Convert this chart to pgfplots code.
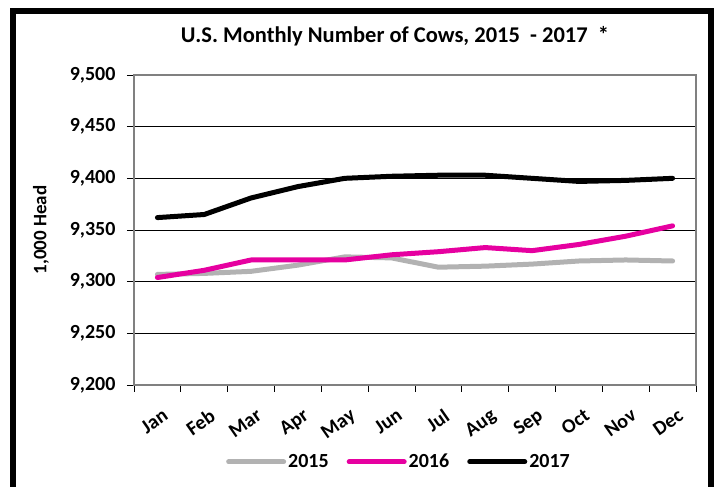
\documentclass[border=0pt]{standalone}
\usepackage{pgfplots}
\pgfplotsset{compat=1.18}
\usepackage{fontspec}
\setmainfont{Carlito}
\definecolor{c15}{RGB}{178,178,178}
\definecolor{c16}{RGB}{230,0,160}
\definecolor{axgray}{RGB}{128,128,128}
\begin{document}
\begin{tikzpicture}[x=1pt,y=1pt]
\useasboundingbox (0,0) rectangle (715,487);
\draw[line width=6pt] (13,-20) -- (13,476) -- (711,476) -- (711,-20);
\node[font=\bfseries\fontsize{22.5}{26}\selectfont] at (395,451) {U.S. Monthly Number of Cows, 2015\ \ - 2017\ \ *};
\node[font=\bfseries\fontsize{19}{22}\selectfont, rotate=90] at (41,257) {1,000 Head};
\begin{axis}[
  at={(134pt,102pt)}, anchor=south west,
  scale only axis, width=562pt, height=310pt,
  xmin=-0.5, xmax=11.5, ymin=9200, ymax=9500,
  ytick={9200,9250,...,9500},
  xtick={0,...,11},
  xticklabels={Jan,Feb,Mar,Apr,May,Jun,Jul,Aug,Sep,Oct,Nov,Dec},
  major x tick style={draw=none},
  minor xtick={-0.5,0.5,...,11.5},
  tick align=outside, tick pos=left,
  major tick length=7pt, minor tick length=7pt,
  tick style={black, line width=0.8pt},
  ymajorgrids, grid style={black, line width=0.9pt},
  axis line style={axgray, line width=1.5pt},
  /pgf/number format/assume math mode=true,
  /pgf/number format/1000 sep={,},
  yticklabel style={font=\bfseries\fontsize{20}{22}\selectfont, xshift=-8pt},
  xticklabel style={font=\bfseries\fontsize{20}{22}\selectfont, rotate=35, anchor=north east, xshift=-2pt, yshift=-12pt},
  legend style={at={(0.4715,-0.248)}, anchor=center, draw=none, fill=none,
    font=\bfseries\fontsize{20}{22}\selectfont, legend columns=3,
    /tikz/every even column/.append style={column sep=16pt}},
  legend image code/.code={\draw[#1] (0pt,0pt) -- (55pt,0pt);},
  every axis plot/.append style={line width=5pt, line join=round, line cap=round},
]
\addplot[c15] coordinates {(0,9307) (1,9308) (2,9310) (3,9316) (4,9324) (5,9323) (6,9314) (7,9315) (8,9317) (9,9320) (10,9321) (11,9320)};
\addlegendentry{2015}
\addplot[c16] coordinates {(0,9304) (1,9311) (2,9321) (3,9321) (4,9321) (5,9326) (6,9329) (7,9333) (8,9330) (9,9336) (10,9344) (11,9354)};
\addlegendentry{2016}
\addplot[black] coordinates {(0,9362) (1,9365) (2,9381) (3,9392) (4,9400) (5,9402) (6,9403) (7,9403) (8,9400) (9,9397) (10,9398) (11,9400)};
\addlegendentry{2017}
\end{axis}
\end{tikzpicture}
\end{document}
